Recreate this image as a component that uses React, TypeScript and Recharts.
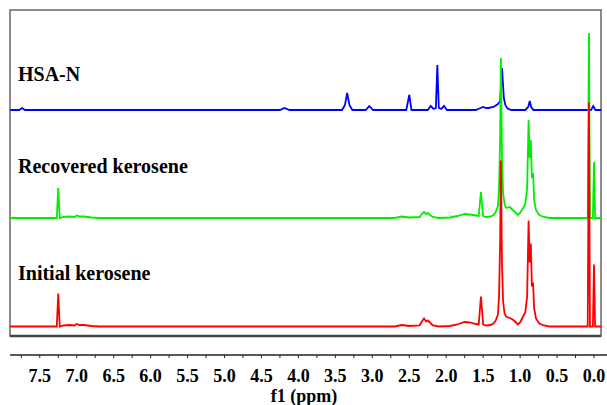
import { LineChart, Line, XAxis, YAxis, ReferenceArea, ReferenceLine } from "recharts";

// ppm -> height above each trace's own baseline
const HSA_N: [number, number][] = [
  [7.9, 0], [7.78, 0], [7.74, 2], [7.7, 0],
  [4.25, 0], [4.19, 2], [4.12, 0],
  [3.41, 0], [3.37, 5], [3.34, 17], [3.31, 5], [3.27, 0],
  [3.09, 0], [3.04, 4], [2.99, 0],
  [2.54, 0], [2.5, 15], [2.47, 0],
  [2.25, 0], [2.21, 4], [2.17, 1], [2.14, 2], [2.12, 45], [2.1, 2], [2.07, 1], [2.03, 4], [1.99, 0],
  [1.6, 0], [1.55, 1.5], [1.5, 3], [1.46, 2], [1.43, 2], [1.36, 3], [1.3, 6], [1.27, 9],
  [1.245, 42], [1.22, 12], [1.2, 5], [1.17, 1.5], [1.12, 0],
  [0.93, 0], [0.89, 3], [0.87, 9], [0.85, 3], [0.82, 0],
  [0.04, 0], [0.01, 4], [-0.02, 0], [-0.1, 0],
];

const RECOVERED: [number, number][] = [
  [7.9, 0], [7.27, 0], [7.25, 30], [7.23, 0], [7.18, 1], [7.1, 1.5], [7.03, 1], [7.0, 2.5],
  [6.96, 1.5], [6.9, 1.5], [6.8, 0.5], [6.7, 0],
  [2.7, 0], [2.6, 1.5], [2.5, 0.5], [2.36, 1], [2.33, 4], [2.3, 6], [2.27, 4], [2.25, 5],
  [2.22, 3], [2.18, 1], [2.1, 0], [1.95, 0.5], [1.85, 2], [1.75, 4], [1.68, 3.5], [1.6, 2.5],
  [1.56, 2], [1.53, 26], [1.5, 2], [1.46, 1], [1.4, 1.5], [1.36, 3], [1.33, 6], [1.3, 12],
  [1.285, 30], [1.27, 80], [1.26, 160], [1.245, 60], [1.23, 25], [1.21, 14], [1.19, 10],
  [1.14, 11], [1.1, 8], [1.07, 6], [1.03, 3], [1.0, 5], [0.96, 10], [0.93, 14], [0.905, 30],
  [0.885, 98], [0.87, 60], [0.855, 78], [0.84, 40], [0.825, 45], [0.81, 18], [0.785, 8],
  [0.74, 3], [0.68, 1], [0.6, 0],
  [0.085, 0], [0.068, 185], [0.055, 0], [0.015, 0], [0.0, 56], [-0.015, 0], [-0.1, 0],
];

const INITIAL: [number, number][] = [
  [7.9, 0], [7.27, 0], [7.25, 33], [7.23, 0], [7.18, 1], [7.1, 1.5], [7.03, 1], [7.0, 2.5],
  [6.96, 1.5], [6.9, 1.5], [6.8, 0.5], [6.7, 0],
  [2.7, 0], [2.6, 1.5], [2.5, 0.5], [2.36, 1], [2.33, 5], [2.3, 8], [2.27, 5], [2.25, 6],
  [2.22, 4], [2.18, 1], [2.1, 0], [1.95, 0.5], [1.85, 2], [1.75, 4.5], [1.68, 4], [1.6, 2.5],
  [1.56, 2], [1.53, 30], [1.5, 2], [1.46, 1], [1.4, 1.5], [1.36, 3], [1.33, 6], [1.3, 12],
  [1.285, 30], [1.27, 85], [1.26, 166], [1.245, 62], [1.23, 25], [1.21, 13], [1.19, 10],
  [1.14, 8.5], [1.1, 7], [1.07, 5], [1.03, 2], [1.0, 4], [0.96, 10], [0.93, 14], [0.905, 30],
  [0.885, 106], [0.87, 64], [0.855, 83], [0.84, 40], [0.825, 44], [0.81, 18], [0.785, 8],
  [0.74, 3], [0.68, 1], [0.6, 0],
  [0.085, 0], [0.068, 224], [0.055, 0], [0.015, 0], [0.0, 62], [-0.015, 0], [-0.1, 0],
];

// vertical stacking: baseline of each trace (same units as heights)
const OFFSET_HSA = 245;
const OFFSET_RECOVERED = 137;
const OFFSET_INITIAL = 28.5;

const TRACE_LABELS = ["HSA-N", "Recovered kerosene", "Initial kerosene"];

const MAJOR_TICKS = [7.5, 7.0, 6.5, 6.0, 5.5, 5.0, 4.5, 4.0, 3.5, 3.0, 2.5, 2.0, 1.5, 1.0, 0.5, 0.0];
const MINOR_TICKS = [7.75, 7.25, 6.75, 6.25, 5.75, 5.25, 4.75, 4.25, 3.75, 3.25, 2.75, 2.25, 1.75, 1.25, 0.75, 0.25];

const X_MIN = -0.176;
const X_MAX = 7.903;
const FRAME_RIGHT = -0.095;

const toRows = (pts: [number, number][], offset: number) =>
  pts.map(([ppm, h]) => ({ ppm, v: h + offset }));

const font = "'Liberation Serif', 'Times New Roman', serif";

function Tick(props: any) {
  const { x, y, payload } = props;
  const isMajor = MAJOR_TICKS.some((t) => Math.abs(t - payload.value) < 1e-6);
  if (!isMajor) return <g />;
  return (
    <text x={x} y={y} dy={22} textAnchor="middle" fontFamily={font} fontWeight="bold" fontSize={18} fill="#000">
      {payload.value.toFixed(1)}
    </text>
  );
}

export default function App() {
  const ticks = [...MAJOR_TICKS, ...MINOR_TICKS].sort((a, b) => a - b);
  return (
    <div style={{ position: "relative", width: 607, height: 405 }}>
      <style>{"body{margin:0}"}</style>
      <LineChart width={607} height={405} margin={{ top: 10, right: 0, bottom: 0, left: 10 }}>
        <XAxis
          type="number"
          dataKey="ppm"
          domain={[X_MIN, X_MAX]}
          reversed
          allowDataOverflow
          ticks={ticks}
          interval={0}
          tickSize={3}
          height={50}
          axisLine={{ stroke: "#222", strokeWidth: 1.5 }}
          tickLine={{ stroke: "#222", strokeWidth: 1 }}
          tick={<Tick />}
        />
        <YAxis type="number" domain={[0, 345]} hide allowDataOverflow />
        <ReferenceArea
          x1={X_MAX}
          x2={FRAME_RIGHT}
          y1={19}
          y2={345}
          fill="none"
          stroke="#666"
          strokeWidth={1.5}
          ifOverflow="visible"
        />
        <ReferenceLine
          segment={[{ x: X_MAX, y: 19 }, { x: FRAME_RIGHT, y: 19 }]}
          stroke="#444"
          strokeWidth={2.5}
          ifOverflow="visible"
        />
        <Line data={toRows(HSA_N, OFFSET_HSA)} dataKey="v" type="linear" stroke="#0000ff" strokeWidth={1.8} dot={false} isAnimationActive={false} />
        <Line data={toRows(RECOVERED, OFFSET_RECOVERED)} dataKey="v" type="linear" stroke="#00ee00" strokeWidth={1.8} dot={false} isAnimationActive={false} />
        <Line data={toRows(INITIAL, OFFSET_INITIAL)} dataKey="v" type="linear" stroke="#ff0000" strokeWidth={1.8} dot={false} isAnimationActive={false} />
      </LineChart>
      <svg width={607} height={405} style={{ position: "absolute", left: 0, top: 0, pointerEvents: "none" }}>
        <g fontFamily={font} fontWeight="bold" fill="#000">
          <text x={18} y={81} fontSize={20}>{TRACE_LABELS[0]}</text>
          <text x={18} y={173} fontSize={20}>{TRACE_LABELS[1]}</text>
          <text x={18} y={280} fontSize={20}>{TRACE_LABELS[2]}</text>
          <text x={304} y={402} fontSize={18} textAnchor="middle">f1 (ppm)</text>
        </g>
      </svg>
    </div>
  );
}
